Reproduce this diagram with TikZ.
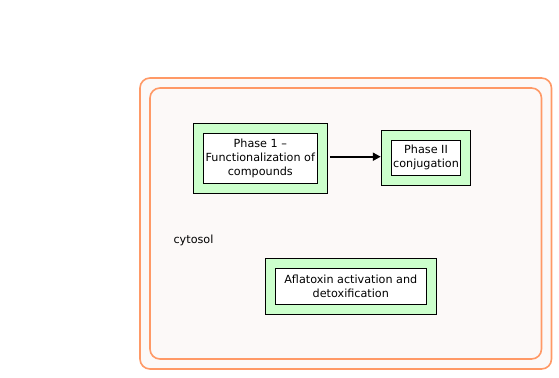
\documentclass[tikz,border=0pt]{standalone}
\usepackage{fontspec}
\setmainfont{DejaVu Sans}
\usetikzlibrary{arrows.meta}
\definecolor{orng}{HTML}{FF9966}
\definecolor{cellfill}{HTML}{FCF9F8}
\definecolor{grn}{HTML}{CCFFCC}
\tikzset{
  compart/.style={draw=orng, line width=1.6bp, fill=cellfill, rounded corners=10bp},
  gbox/.style={draw=black, line width=0.9bp, fill=grn},
  txt/.style={font=\fontsize{11.2bp}{14bp}\selectfont},
  wbox/.style={txt, draw=black, line width=0.9bp, fill=white, align=center, inner sep=0pt},
  conn/.style={line width=2bp, -{Triangle[length=8bp,width=8bp]}},
}
\begin{document}
\begin{tikzpicture}[x=1bp,y=-1bp]
\useasboundingbox (0,0) rectangle (559,377);
\draw[compart] (140,78) rectangle (551.5,369);
\draw[compart] (150,88) rectangle (541.5,359);
\node[txt] (cyt) at (193.5,240) {cytosol};
% Phase 1
\node[gbox, minimum width=134bp, minimum height=70bp] (p1o) at (260.3,158.3) {};
\node[wbox, minimum width=114bp, minimum height=50bp] (p1) at (260.3,158.3) {Phase 1 –\\Functionalization of\\compounds};
% Phase II
\node[gbox, minimum width=89bp, minimum height=55bp] (p2o) at (425.7,157.8) {};
\node[wbox, minimum width=69bp, minimum height=35bp] (p2) at (426,157.8) {Phase II\\conjugation};
% Aflatoxin
\node[gbox, minimum width=171bp, minimum height=56bp] (afo) at (350.8,286.3) {};
\node[wbox, minimum width=151bp, minimum height=36bp] (af) at (350.8,286.3) {Aflatoxin activation and\hspace{0.6em}\\detoxification};
\draw[conn] (p1o.east) ++(2,-1.6) coordinate (s) -- (s -| p2o.west);
\end{tikzpicture}
\end{document}
